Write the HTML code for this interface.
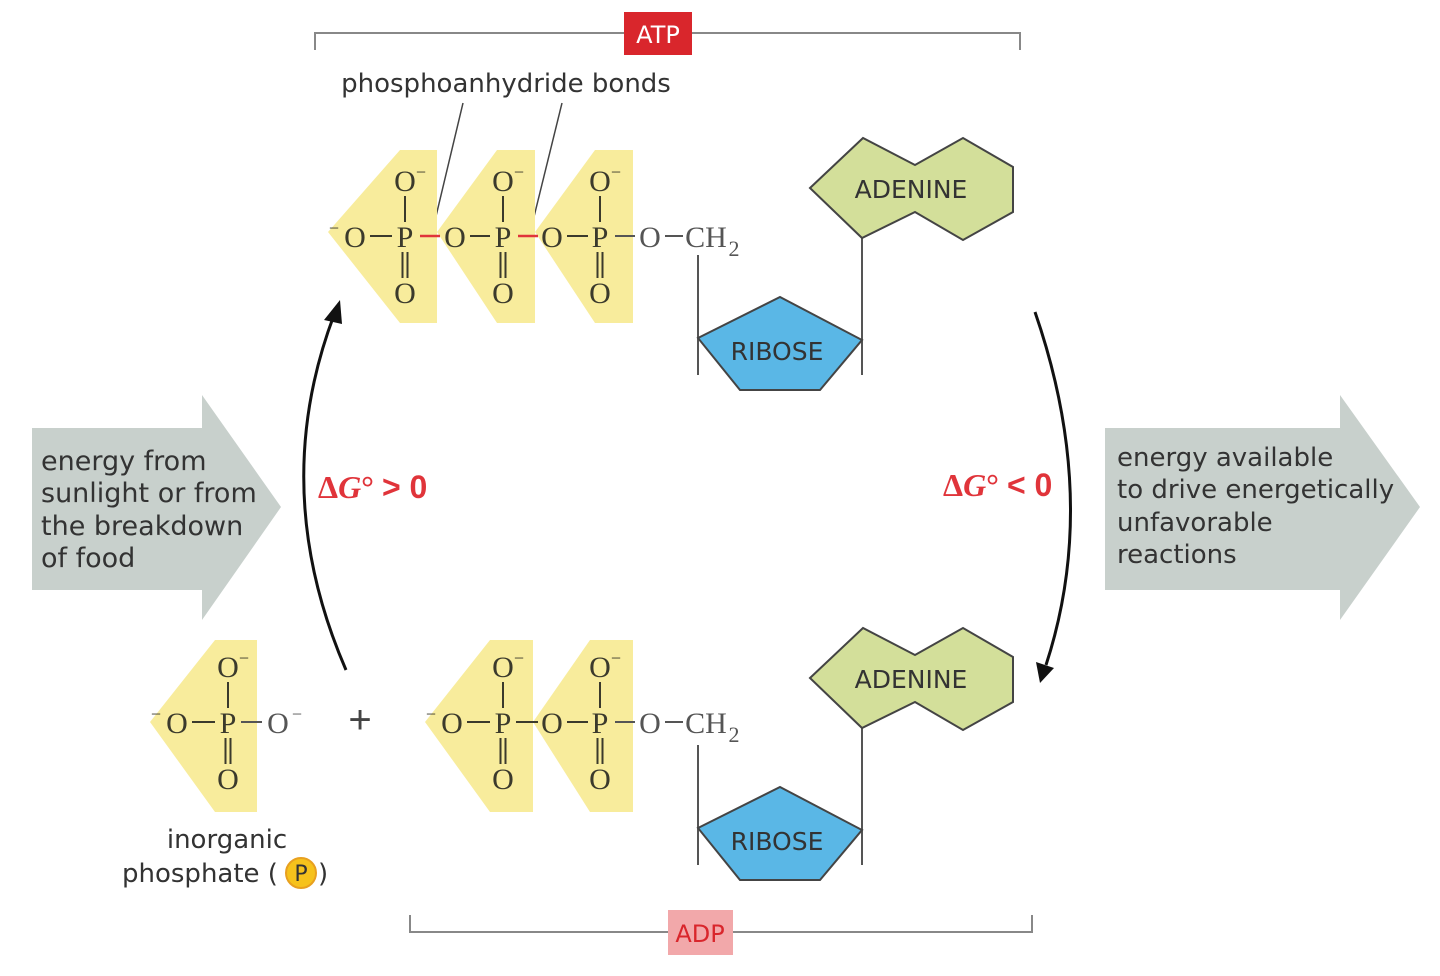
<!DOCTYPE html>
<html><head><meta charset="utf-8"><style>
html,body{margin:0;padding:0;background:#fff;}
svg{display:block;}
.c{font-family:"Liberation Serif",serif;font-size:30px;fill:#3b3a2c;text-anchor:middle;}
.m{font-family:"Liberation Serif",serif;font-size:18px;fill:#3b3a2c;text-anchor:middle;}
.s{font-family:"DejaVu Sans","Liberation Sans",sans-serif;fill:#333;}
.b{stroke:#3b3a2c;stroke-width:2;}
</style></head><body>
<svg width="1440" height="976" viewBox="0 0 1440 976" xmlns="http://www.w3.org/2000/svg">
<path d="M315 50 V33 H1020 V50" fill="none" stroke="#888" stroke-width="2"/>
<rect x="624" y="12" width="68" height="43" fill="#d9262c"/>
<text x="658" y="43" class="s" font-size="24" style="fill:#fff" text-anchor="middle">ATP</text>
<path d="M410 915 V932 H1032 V915" fill="none" stroke="#888" stroke-width="2"/>
<rect x="668" y="910" width="65" height="45" fill="#f2a8aa"/>
<text x="700" y="942" class="s" font-size="24" style="fill:#d9262c" text-anchor="middle">ADP</text>
<text x="506" y="92" class="s" font-size="26" text-anchor="middle">phosphoanhydride bonds</text>
<line x1="463" y1="103" x2="432" y2="233" stroke="#444" stroke-width="1.5"/>
<line x1="562" y1="103" x2="530" y2="233" stroke="#444" stroke-width="1.5"/>

<polygon points="32,428 202,428 202,395 281,507 202,620 202,590 32,590" fill="#c8d0cc"/>
<text class="s" font-size="27" x="41" y="470">energy from</text>
<text class="s" font-size="27" x="41" y="502">sunlight or from</text>
<text class="s" font-size="27" x="41" y="535">the breakdown</text>
<text class="s" font-size="27" x="41" y="567">of food</text>
<polygon points="1105,428 1340,428 1340,395 1420,507 1340,620 1340,590 1105,590" fill="#c8d0cc"/>
<text class="s" font-size="26" x="1117" y="466">energy available</text>
<text class="s" font-size="26" x="1117" y="498">to drive energetically</text>
<text class="s" font-size="26" x="1117" y="531">unfavorable</text>
<text class="s" font-size="26" x="1117" y="563">reactions</text>

<path d="M346 670 Q268 490 334 315" fill="none" stroke="#111" stroke-width="3"/>
<polygon points="340,300 324,320 342,324" fill="#111"/>
<path d="M1035 312 Q1100 500 1046 665" fill="none" stroke="#111" stroke-width="3"/>
<polygon points="1040,683 1036,662 1054,668" fill="#111"/>
<text x="318" y="498" font-family="Liberation Serif,serif" font-size="32" font-weight="bold" fill="#e0343a">Δ<tspan font-style="italic">G</tspan>° <tspan font-family="Liberation Sans,sans-serif">&gt; 0</tspan></text>
<text x="943" y="496" font-family="Liberation Serif,serif" font-size="32" font-weight="bold" fill="#e0343a">Δ<tspan font-style="italic">G</tspan>° <tspan font-family="Liberation Sans,sans-serif">&lt; 0</tspan></text>

<g fill="#f8ec9c">
<polygon points="328,232 400,150 437,150 437,323 400,323"/>
<polygon points="437,232 497,150 535,150 535,323 497,323"/>
<polygon points="535,232 595,150 633,150 633,323 595,323"/>
<polygon points="150,722 215,640 257,640 257,812 215,812"/>
<polygon points="425,722 490,640 533,640 533,812 490,812"/>
<polygon points="533,722 590,640 633,640 633,812 590,812"/>
</g>

<g>
<text class="m" x="334" y="234">−</text><text class="c" x="355" y="247">O</text>
<line class="b" x1="370" y1="236" x2="392" y2="236"/>
<line x1="420" y1="236" x2="440" y2="236" stroke="#e0343a" stroke-width="2.5"/>
<text class="c" x="455" y="247">O</text>
<line class="b" x1="470" y1="236" x2="490" y2="236"/>
<line x1="518" y1="236" x2="538" y2="236" stroke="#e0343a" stroke-width="2.5"/>
<text class="c" x="552" y="247">O</text>
<line class="b" x1="567" y1="236" x2="588" y2="236"/>
<line x1="615" y1="236" x2="635" y2="236" stroke="#555" stroke-width="2"/>
<text class="c" x="650" y="247" style="fill:#555">O</text>
<line x1="665" y1="236" x2="683" y2="236" stroke="#555" stroke-width="2"/>
<text class="c" x="706" y="247" style="fill:#555">CH</text><text class="m" x="734" y="256" style="fill:#555;font-size:22px">2</text>
<text class="c" x="405" y="247">P</text><text class="c" x="405" y="191">O</text><text class="m" x="421" y="178">−</text>
<line class="b" x1="405" y1="196" x2="405" y2="222"/><line class="b" x1="402.5" y1="252" x2="402.5" y2="278"/><line class="b" x1="407.5" y1="252" x2="407.5" y2="278"/><text class="c" x="405" y="303">O</text>
<text class="c" x="503" y="247">P</text><text class="c" x="503" y="191">O</text><text class="m" x="519" y="178">−</text>
<line class="b" x1="503" y1="196" x2="503" y2="222"/><line class="b" x1="500.5" y1="252" x2="500.5" y2="278"/><line class="b" x1="505.5" y1="252" x2="505.5" y2="278"/><text class="c" x="503" y="303">O</text>
<text class="c" x="600" y="247">P</text><text class="c" x="600" y="191">O</text><text class="m" x="616" y="178">−</text>
<line class="b" x1="600" y1="196" x2="600" y2="222"/><line class="b" x1="597.5" y1="252" x2="597.5" y2="278"/><line class="b" x1="602.5" y1="252" x2="602.5" y2="278"/><text class="c" x="600" y="303">O</text>
</g>

<line x1="698" y1="255" x2="698" y2="375" stroke="#555" stroke-width="2"/>
<line x1="862" y1="238" x2="862" y2="375" stroke="#555" stroke-width="2"/>
<polygon points="810,188 863,138 915,165 963,138 1013,167 1013,212 963,240 915,212 862,238" fill="#d3df9a" stroke="#444" stroke-width="2"/>
<text x="911" y="198" class="s" font-size="25" text-anchor="middle">ADENINE</text>
<polygon points="698,338 780,297 862,340 820,390 740,390" fill="#5ab7e6" stroke="#444" stroke-width="2"/>
<text x="777" y="360" class="s" font-size="25" text-anchor="middle">RIBOSE</text>

<text class="m" x="156" y="720">−</text><text class="c" x="177" y="733">O</text>
<line class="b" x1="192" y1="722" x2="215" y2="722"/>
<text class="c" x="228" y="733">P</text><text class="c" x="228" y="677">O</text><text class="m" x="244" y="664">−</text>
<line class="b" x1="228" y1="682" x2="228" y2="708"/><line class="b" x1="225.5" y1="738" x2="225.5" y2="764"/><line class="b" x1="230.5" y1="738" x2="230.5" y2="764"/><text class="c" x="228" y="789">O</text>
<line x1="241" y1="722" x2="262" y2="722" stroke="#555" stroke-width="2"/>
<text class="c" x="278" y="733" style="fill:#555">O</text><text class="m" x="297" y="720" style="fill:#555">−</text>
<text x="360" y="733" font-family="Liberation Sans,sans-serif" font-size="40" fill="#444" text-anchor="middle">+</text>
<text class="s" font-size="26" x="227" y="848" text-anchor="middle">inorganic</text>
<text class="s" font-size="26" x="122" y="882">phosphate (</text>
<circle cx="301" cy="873" r="15" fill="#f6c21c" stroke="#e8a020" stroke-width="2"/>
<text class="s" font-size="22" x="301" y="881" text-anchor="middle">P</text>
<text class="s" font-size="26" x="318" y="882">)</text>

<text class="m" x="431" y="720">−</text><text class="c" x="452" y="733">O</text>
<line class="b" x1="467" y1="722" x2="490" y2="722"/>
<text class="c" x="503" y="733">P</text><text class="c" x="503" y="677">O</text><text class="m" x="519" y="664">−</text>
<line class="b" x1="503" y1="682" x2="503" y2="708"/><line class="b" x1="500.5" y1="738" x2="500.5" y2="764"/><line class="b" x1="505.5" y1="738" x2="505.5" y2="764"/><text class="c" x="503" y="789">O</text>
<line class="b" x1="516" y1="722" x2="538" y2="722"/>
<text class="c" x="552" y="733">O</text>
<line class="b" x1="567" y1="722" x2="588" y2="722"/>
<text class="c" x="600" y="733">P</text><text class="c" x="600" y="677">O</text><text class="m" x="616" y="664">−</text>
<line class="b" x1="600" y1="682" x2="600" y2="708"/><line class="b" x1="597.5" y1="738" x2="597.5" y2="764"/><line class="b" x1="602.5" y1="738" x2="602.5" y2="764"/><text class="c" x="600" y="789">O</text>
<line x1="615" y1="722" x2="635" y2="722" stroke="#555" stroke-width="2"/>
<text class="c" x="650" y="733" style="fill:#555">O</text>
<line x1="665" y1="722" x2="683" y2="722" stroke="#555" stroke-width="2"/>
<text class="c" x="706" y="733" style="fill:#555">CH</text><text class="m" x="734" y="742" style="fill:#555;font-size:22px">2</text>

<line x1="698" y1="745" x2="698" y2="865" stroke="#555" stroke-width="2"/>
<line x1="862" y1="728" x2="862" y2="865" stroke="#555" stroke-width="2"/>
<polygon points="810,678 863,628 915,655 963,628 1013,657 1013,702 963,730 915,702 862,728" fill="#d3df9a" stroke="#444" stroke-width="2"/>
<text x="911" y="688" class="s" font-size="25" text-anchor="middle">ADENINE</text>
<polygon points="698,828 780,787 862,830 820,880 740,880" fill="#5ab7e6" stroke="#444" stroke-width="2"/>
<text x="777" y="850" class="s" font-size="25" text-anchor="middle">RIBOSE</text>
</svg>
</body></html>
